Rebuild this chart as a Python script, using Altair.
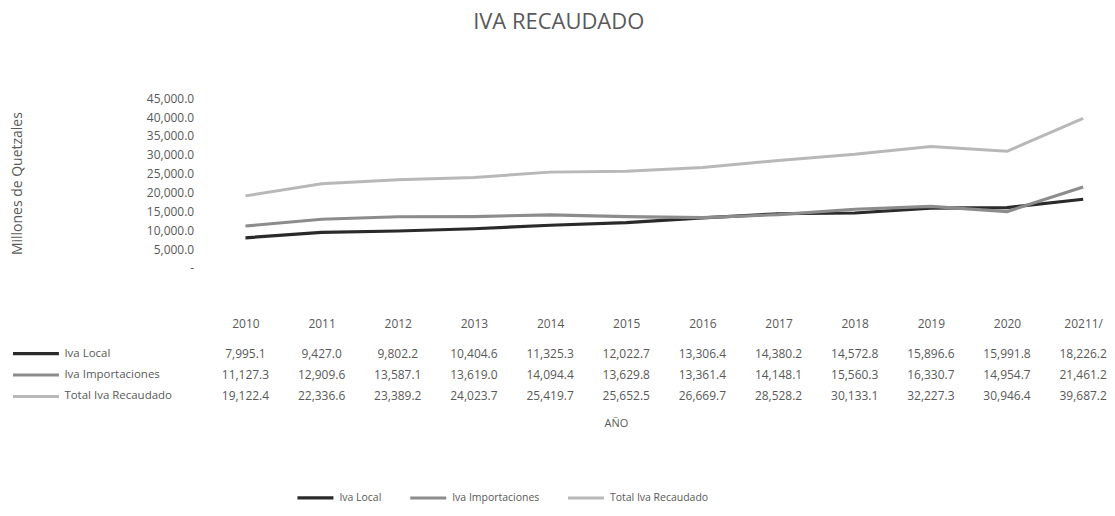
import altair as alt
import pandas as pd

years = ["2010", "2011", "2012", "2013", "2014", "2015", "2016", "2017", "2018", "2019", "2020", "20211/"]
series_names = ["Iva Local", "Iva Importaciones", "Total Iva Recaudado"]
iva_local = [7995.1, 9427.0, 9802.2, 10404.6, 11325.3, 12022.7, 13306.4, 14380.2, 14572.8, 15896.6, 15991.8, 18226.2]
iva_importaciones = [11127.3, 12909.6, 13587.1, 13619.0, 14094.4, 13629.8, 13361.4, 14148.1, 15560.3, 16330.7, 14954.7, 21461.2]
total_iva = [19122.4, 22336.6, 23389.2, 24023.7, 25419.7, 25652.5, 26669.7, 28528.2, 30133.1, 32227.3, 30946.4, 39687.2]

rows = []
for name, vals in zip(series_names, [iva_local, iva_importaciones, total_iva]):
    for yr, v in zip(years, vals):
        rows.append({"Año": yr, "Serie": name, "Valor": v})
df = pd.DataFrame(rows)
df_series = pd.DataFrame({"Serie": series_names})

FONT = "Open Sans"
GRAY = "#595959"
W = 885
colors = ["#2a2a2a", "#8c8c8c", "#b8b8b8"]
widths = [3.2, 3, 2.4]

color = alt.Color(
    "Serie:N",
    scale=alt.Scale(domain=series_names, range=colors),
    legend=alt.Legend(
        orient="none", direction="horizontal", title=None,
        legendX=73, legendY=380,
        symbolType="stroke", symbolStrokeWidth=3, symbolSize=1300,
        labelFont=FONT, labelFontSize=10.5, labelColor=GRAY,
        columnPadding=21,
    ),
)
stroke_w = alt.StrokeWidth("Serie:N", scale=alt.Scale(domain=series_names, range=widths), legend=None)
xscale = alt.Scale(type="point", padding=0.3)

lines = alt.Chart(df).mark_line().encode(
    x=alt.X("Año:N", sort=years, scale=xscale,
            axis=alt.Axis(title=None, labelAngle=0, domain=False, ticks=False, labelPadding=51,
                          labelFont=FONT, labelFontSize=12, labelColor=GRAY)),
    y=alt.Y("Valor:Q", scale=alt.Scale(domain=[0, 45000]),
            axis=alt.Axis(values=list(range(0, 45001, 5000)),
                          labelExpr="datum.value == 0 ? '-' : format(datum.value, ',.1f')",
                          grid=False, domain=False, ticks=False, labelPadding=29,
                          labelFont=FONT, labelFontSize=12, labelColor=GRAY,
                          title="Millones de Quetzales", titleFont=FONT, titleFontSize=14,
                          titleFontWeight="normal", titleColor=GRAY, titlePadding=122)),
    color=color,
    strokeWidth=stroke_w,
).properties(width=W, height=170)

tbl_text = alt.Chart(df).mark_text(font=FONT, fontSize=12, color=GRAY).encode(
    x=alt.X("Año:N", sort=years, scale=xscale,
            axis=alt.Axis(labels=False, ticks=False, domain=False, title="AÑO",
                          titleFont=FONT, titleFontSize=11, titleFontWeight="normal",
                          titleColor=GRAY, titlePadding=10, titleX=394)),
    y=alt.Y("Serie:N", sort=series_names,
            axis=alt.Axis(title=None, labelAlign="left", labelPadding=159, ticks=False, domain=False,
                          labelFont=FONT, labelFontSize=11.5, labelColor=GRAY)),
    text=alt.Text("Valor:Q", format=",.1f"),
)
swatch = alt.Chart(df_series).mark_rule().encode(
    y=alt.Y("Serie:N", sort=series_names),
    x=alt.value(-210),
    x2=alt.value(-164),
    color=color,
    strokeWidth=stroke_w,
)
tbl = alt.layer(swatch, tbl_text).properties(width=W, height=64.5)

chart = alt.vconcat(lines, tbl, spacing=13).resolve_scale(color="shared").properties(
    title=alt.Title("IVA RECAUDADO", font=FONT, fontSize=22, fontWeight="normal",
                    color=GRAY, anchor="middle", offset=58),
    padding={"left": 2, "top": 3, "right": 0, "bottom": 0},
).configure_view(stroke=None)

chart.save("out.html", embed_options={"renderer": "svg", "actions": False})
